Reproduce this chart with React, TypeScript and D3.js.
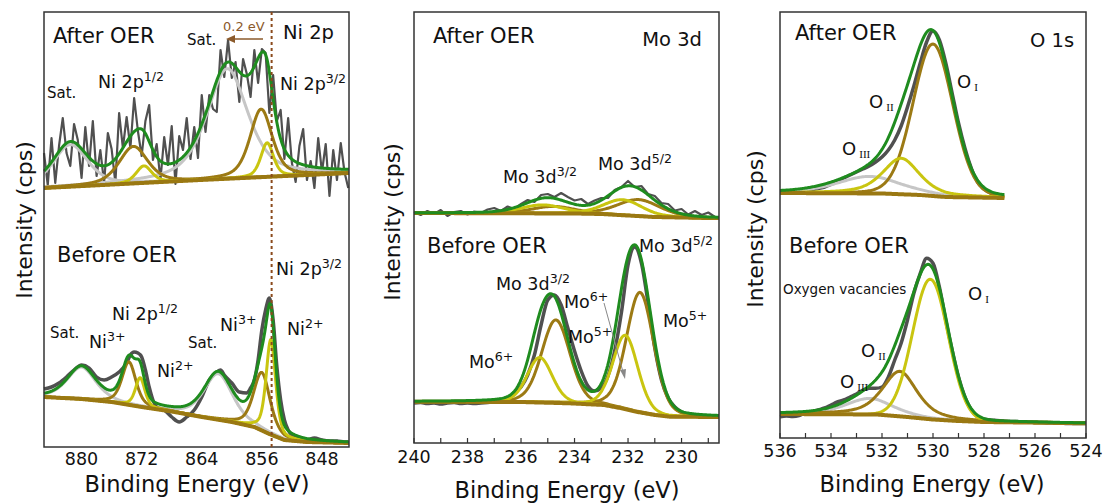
import { useEffect, useRef } from "react";
import * as d3 from "d3";

// ---------- Ni 2p ----------
const niTicks = [880, 872, 864, 856, 848];
const niShiftLine = 854.7;

const niAfterBgE = [885, 864.2, 844.4];
const niAfterBgI = [40, 48, 55];
const niAfterPeakE = [881.5, 860.6, 873.1, 856.1, 871.7, 855.3];
const niAfterPeakH = [42, 110, 37, 68, 17, 34];
const niAfterPeakW = [5.5, 6.5, 4.5, 3.5, 2.5, 2.0];
const niAfterPeakEta = [0.5, 0.6, 0.5, 0.5, 0.5, 0.5];
const niAfterPeakKind = ["gray", "gray", "brown", "brown", "yellow", "yellow"];
// measured counts, 885 eV down in 0.5 eV steps
const niAfterExp = [
  75, 43, 90, 45, 82, 110, 75, 62, 104, 88,
  50, 101, 62, 107, 52, 78, 45, 95, 79, 45,
  115, 80, 111, 80, 130, 97, 72, 107, 123, 68,
  84, 48, 91, 63, 102, 44, 92, 78, 110, 69,
  101, 70, 133, 96, 133, 119, 116, 178, 151, 188,
  150, 166, 126, 169, 154, 131, 178, 145, 179, 175,
  115, 153, 107, 118, 69, 110, 65, 46, 82, 99,
  48, 67, 40, 90, 56, 84, 32, 78, 48, 85,
  56, 40,
];

const niBeforeBgE = [885, 880, 876, 872, 868, 864, 860, 857, 855, 853, 850, 844.4];
const niBeforeBgI = [50, 48, 45, 40, 35.5, 30, 25, 20, 13, 7, 5, 4];
const niBeforePeakE = [880.0, 861.8, 873.7, 856.0, 872.2, 854.8];
const niBeforePeakH = [32, 46, 43, 58, 29, 95];
const niBeforePeakW = [4.5, 4.5, 2.2, 2.6, 1.5, 1.5];
const niBeforePeakEta = [0.5, 0.5, 0.5, 0.5, 0.5, 0.5];
const niBeforePeakKind = ["gray", "gray", "brown", "brown", "yellow", "yellow"];
const niBeforeExpE = [
  885, 884, 883, 882, 881, 880, 879, 878, 877, 876, 875, 874, 873.5, 873, 872.5, 872,
  871.5, 871, 870.5, 870, 869, 868, 867, 866, 865, 864, 863, 862, 861.5, 861, 860, 859,
  858, 857.5, 857, 856.5, 856, 855.5, 855, 854.5, 854, 853.5, 853, 852.5, 852, 851, 850,
  849, 848, 847, 846, 845, 844.5,
];
const niBeforeExpI = [
  58, 60, 64, 70, 77, 82, 79, 70, 67, 70, 75, 84, 92, 95, 94, 90,
  77, 60, 47, 40, 37, 30, 25, 30, 37, 50, 67, 75, 77, 72, 64, 55,
  54, 59, 67, 87, 117, 137, 149, 127, 80, 47, 27, 17, 12, 9, 7,
  9, 7, 6, 6, 5, 5,
];

// ---------- Mo 3d ----------
const moTicks = [240, 238, 236, 234, 232, 230];

const moAfterBgE = [240, 234, 233, 232, 231, 229, 228.6];
const moAfterBgI = [15, 14.5, 14, 12.5, 11, 10, 10];
const moAfterPeakE = [235.2, 232.2, 234.8, 231.6];
const moAfterPeakH = [8.5, 15.5, 7, 16.5];
const moAfterPeakW = [1.9, 1.7, 1.9, 1.9];
const moAfterPeakEta = [0.3, 0.3, 0.3, 0.3];
const moAfterPeakKind = ["yellow", "yellow", "brown", "brown"];
// 240 eV down in 0.25 eV steps
const moAfterExp = [
  16, 13, 17, 14, 18, 12, 16, 17, 13.5, 16.5,
  15, 18.5, 20, 17, 21.5, 19, 24, 28, 26, 33,
  34, 31, 35, 31, 27.5, 29, 24, 27.5, 30, 30,
  38, 41, 47, 41, 42, 34, 32, 25, 24, 17.5,
  19, 13.5, 17, 13, 15.5, 11,
];

const moBeforeBgE = [240, 236, 234.2, 232.9, 232.3, 231.7, 231, 230.45, 228.6];
const moBeforeBgI = [41.3, 41, 39.7, 38, 35, 31.3, 28, 26.3, 26];
const moBeforePeakE = [235.3, 232.1, 234.7, 231.55];
const moBeforePeakH = [45, 74, 83, 120];
const moBeforePeakW = [1.1, 1.1, 1.25, 1.2];
const moBeforePeakEta = [0.2, 0.2, 0.2, 0.2];
const moBeforePeakKind = ["yellow", "yellow", "brown", "brown"];
const moBeforeExp = [
  40, 40.5, 39.5, 40, 39, 40, 40.5, 39.5, 40, 39.5, 40, 40.5, 41,
  42, 45, 50, 56, 68, 88, 118, 143, 148, 138,
  115, 92, 72, 57, 52, 55, 67, 92, 130, 178,
  196, 180, 140, 95, 63, 45, 36, 31, 29, 28,
  27.5, 27, 26.5,
];

// ---------- O 1s ----------
const oTicks = [536, 534, 532, 530, 528, 526, 524];

const oAfterBgE = [536, 532, 530.5, 529.5, 527.2];
const oAfterBgI = [35, 34.5, 33, 31, 30];
const oAfterPeakE = [530.0, 531.25, 532.5];
const oAfterPeakH = [152, 36, 17];
const oAfterPeakW = [1.85, 1.7, 3.0];
const oAfterPeakEta = [0.1, 0.6, 0.5];
const oAfterPeakKind = ["brown", "yellow", "gray"];
// 536 eV down in 0.25 eV steps
const oAfterExp = [
  35, 35, 35.5, 36, 37, 38, 39.5, 41, 43.5, 46.5,
  50, 53, 56, 59, 62, 66, 71, 78, 88, 102,
  121, 142, 165, 186, 197, 188, 165, 135, 105, 80,
  60, 46, 39, 35, 33, 31,
];

const oBeforeBgE = [536, 532.2, 531, 530, 529, 528, 524];
const oBeforeBgI = [24, 23.5, 21, 18.5, 17, 16, 14.7];
const oBeforePeakE = [530.1, 531.3, 532.5];
const oBeforePeakH = [140, 45, 16];
const oBeforePeakW = [1.65, 1.6, 2.2];
const oBeforePeakEta = [0, 0.6, 0.5];
const oBeforePeakKind = ["yellow", "brown", "gray"];
const oBeforeExp = [
  21.3, 22, 21.5, 22.5, 25.3, 26, 28, 30, 33, 36,
  38, 41, 44, 48, 49.7, 49.7, 51, 61, 78, 94.7,
  118, 144.7, 164.7, 179.7, 174.7, 151, 118, 88, 61, 41,
  28, 21.3, 18.7, 18, 17.5, 17, 16.5, 16.5, 16, 16,
  15.5, 15.5, 15, 15, 15, 14.5, 14.5, 14.5, 14.5,
];

const FONT = "'DejaVu Sans', Verdana, sans-serif";
const colors: Record<string, string> = {
  gray: "#c6c6c6",
  brown: "#9c7a14",
  yellow: "#c9c510",
  bg: "#9a7812",
  fit: "#1f8c1f",
  exp: "#505050",
};

type Part = { t: string; sup?: boolean; sub?: boolean };
type Lbl = { x: number; y: number; parts: Part[]; size: number; color?: string; anchor?: string };

const sup = (a: string, b: string, size = 17, x = 0, y = 0): Lbl => ({
  x, y, size, parts: [{ t: a }, { t: b, sup: true }],
});
const roman = (b: string, x: number, y: number): Lbl => ({
  x, y, size: 18, parts: [{ t: "O" }, { t: b, sub: true }],
});

const pv = (e: number, c: number, h: number, w: number, eta: number) => {
  const u = (e - c) / w;
  const L = 1 / (1 + 4 * u * u);
  const G = Math.exp(-4 * Math.LN2 * u * u);
  return h * (eta * L + (1 - eta) * G);
};

const panels = [
  {
    x0: 44, x1: 349, y0: 12, y1: 447, domain: [885, 844.4], ticks: niTicks, minor: false,
    tickY: 465, titleX: 197, titleY: 492, yTitleX: 24, yTitleY: 220,
    subs: [
      {
        bottom: 228, from: 885, to: 844.4, bgE: niAfterBgE, bgI: niAfterBgI,
        pe: niAfterPeakE, ph: niAfterPeakH, pw: niAfterPeakW, peta: niAfterPeakEta, pk: niAfterPeakKind,
        expE: d3.range(niAfterExp.length).map((i) => 885 - i * 0.5), expI: niAfterExp, noisy: true,
      },
      {
        bottom: 447, from: 885, to: 844.4, bgE: niBeforeBgE, bgI: niBeforeBgI,
        pe: niBeforePeakE, ph: niBeforePeakH, pw: niBeforePeakW, peta: niBeforePeakEta, pk: niBeforePeakKind,
        expE: niBeforeExpE, expI: niBeforeExpI, noisy: false,
      },
    ],
    labels: [
      { x: 53, y: 43, size: 21, parts: [{ t: "After OER" }] },
      { x: 283, y: 39, size: 19.5, parts: [{ t: "Ni 2p" }] },
      { x: 223, y: 31, size: 13, color: "#8b5a2b", parts: [{ t: "0.2 eV" }] },
      { x: 187, y: 45, size: 15, parts: [{ t: "Sat." }] },
      sup("Ni 2p", "1/2", 17.5, 98, 88),
      sup("Ni 2p", "3/2", 17.5, 280, 90),
      { x: 47, y: 98, size: 15, parts: [{ t: "Sat." }] },
      { x: 57, y: 262, size: 21, parts: [{ t: "Before OER" }] },
      sup("Ni 2p", "3/2", 17.5, 276, 275),
      sup("Ni 2p", "1/2", 17.5, 112, 320),
      { x: 50, y: 338, size: 15, parts: [{ t: "Sat." }] },
      sup("Ni", "3+", 17.5, 89, 348),
      sup("Ni", "2+", 17.5, 157, 377),
      { x: 188, y: 348, size: 15, parts: [{ t: "Sat." }] },
      sup("Ni", "3+", 17.5, 220, 331),
      sup("Ni", "2+", 17.5, 287, 335),
    ] as Lbl[],
  },
  {
    x0: 414, x1: 719, y0: 12, y1: 443, domain: [240, 228.6], ticks: moTicks, minor: true,
    tickY: 463, titleX: 567, titleY: 498, yTitleX: 392, yTitleY: 222,
    subs: [
      {
        bottom: 228, from: 240, to: 228.6, bgE: moAfterBgE, bgI: moAfterBgI,
        pe: moAfterPeakE, ph: moAfterPeakH, pw: moAfterPeakW, peta: moAfterPeakEta, pk: moAfterPeakKind,
        expE: d3.range(moAfterExp.length).map((i) => 240 - i * 0.25), expI: moAfterExp, noisy: true,
      },
      {
        bottom: 443, from: 240, to: 228.6, bgE: moBeforeBgE, bgI: moBeforeBgI,
        pe: moBeforePeakE, ph: moBeforePeakH, pw: moBeforePeakW, peta: moBeforePeakEta, pk: moBeforePeakKind,
        expE: d3.range(moBeforeExp.length).map((i) => 240 - i * 0.25), expI: moBeforeExp, noisy: false,
      },
    ],
    labels: [
      { x: 433, y: 43, size: 21, parts: [{ t: "After OER" }] },
      { x: 702, y: 46, size: 19.5, anchor: "end", parts: [{ t: "Mo 3d" }] },
      sup("Mo 3d", "3/2", 17.5, 503, 183),
      sup("Mo 3d", "5/2", 17.5, 598, 170),
      { x: 427, y: 253, size: 21, parts: [{ t: "Before OER" }] },
      sup("Mo 3d", "5/2", 17.5, 639, 252),
      sup("Mo 3d", "3/2", 17.5, 496, 290),
      sup("Mo", "6+", 17.5, 564, 308),
      sup("Mo", "5+", 17.5, 568, 343),
      sup("Mo", "5+", 17.5, 663, 327),
      sup("Mo", "6+", 17.5, 469, 368),
    ] as Lbl[],
  },
  {
    x0: 780, x1: 1086, y0: 12, y1: 438, domain: [536, 524], ticks: oTicks, minor: true,
    tickY: 457, titleX: 932, titleY: 492, yTitleX: 755, yTitleY: 229,
    subs: [
      {
        bottom: 228, from: 536, to: 527.2, bgE: oAfterBgE, bgI: oAfterBgI,
        pe: oAfterPeakE, ph: oAfterPeakH, pw: oAfterPeakW, peta: oAfterPeakEta, pk: oAfterPeakKind,
        expE: d3.range(oAfterExp.length).map((i) => 536 - i * 0.25), expI: oAfterExp, noisy: false,
      },
      {
        bottom: 438, from: 536, to: 524, bgE: oBeforeBgE, bgI: oBeforeBgI,
        pe: oBeforePeakE, ph: oBeforePeakH, pw: oBeforePeakW, peta: oBeforePeakEta, pk: oBeforePeakKind,
        expE: d3.range(oBeforeExp.length).map((i) => 536 - i * 0.25), expI: oBeforeExp, noisy: false,
      },
    ],
    labels: [
      { x: 795, y: 40, size: 21, parts: [{ t: "After OER" }] },
      { x: 1030, y: 47, size: 19.5, parts: [{ t: "O 1s" }] },
      roman("I", 957, 88),
      roman("II", 869, 108),
      roman("III", 842, 155),
      { x: 789, y: 253, size: 21, parts: [{ t: "Before OER" }] },
      { x: 783, y: 294, size: 13.5, parts: [{ t: "Oxygen vacancies" }] },
      roman("I", 968, 300),
      roman("II", 861, 357),
      roman("III", 840, 388),
    ] as Lbl[],
  },
];

export default function App() {
  const svgRef = useRef<SVGSVGElement | null>(null);

  useEffect(() => {
    if (!svgRef.current) return;
    const svg = d3.select(svgRef.current);
    svg.selectAll("*").remove();
    svg.append("rect").attr("width", 1105).attr("height", 503).attr("fill", "#fff");

    panels.forEach((p) => {
      const x = d3.scaleLinear().domain(p.domain).range([p.x0, p.x1]);
      const g = svg.append("g");

      p.subs.forEach((s) => {
        const y = d3.scaleLinear().domain([0, 100]).range([s.bottom, s.bottom - 100]);
        const bg = d3.scaleLinear().domain(s.bgE).range(s.bgI);
        const grid = d3.range(s.from, s.to - 1e-9, -0.04);
        const line = d3.line<[number, number]>().x((d) => x(d[0])).y((d) => y(d[1]));

        // measured spectrum
        g.append("path")
          .attr("d", line.curve(s.noisy ? d3.curveLinear : d3.curveMonotoneX)(s.expE.map((e, i) => [e, s.expI[i]] as [number, number])))
          .attr("fill", "none")
          .attr("stroke", colors.exp)
          .attr("stroke-width", s.noisy ? 2.2 : 3.5)
          .attr("stroke-linejoin", "round");

        line.curve(d3.curveLinear);
        // fitted components, drawn gray -> brown -> yellow
        ["gray", "brown", "yellow"].forEach((kind) => {
          s.pe.forEach((c, i) => {
            if (s.pk[i] !== kind) return;
            const pts = grid.map((e) => [e, bg(e) + pv(e, c, s.ph[i], s.pw[i], s.peta[i])] as [number, number]);
            g.append("path")
              .attr("d", line(pts))
              .attr("fill", "none")
              .attr("stroke", colors[kind])
              .attr("stroke-width", 3);
          });
        });

        // background
        g.append("path")
          .attr("d", line(grid.map((e) => [e, bg(e)] as [number, number])))
          .attr("fill", "none")
          .attr("stroke", colors.bg)
          .attr("stroke-width", 4);

        // envelope
        const env = grid.map((e) => {
          let v = bg(e);
          s.pe.forEach((c, i) => (v += pv(e, c, s.ph[i], s.pw[i], s.peta[i])));
          return [e, v] as [number, number];
        });
        g.append("path")
          .attr("d", line(env))
          .attr("fill", "none")
          .attr("stroke", colors.fit)
          .attr("stroke-width", 3);
      });

      // frame
      g.append("rect")
        .attr("x", p.x0).attr("y", p.y0)
        .attr("width", p.x1 - p.x0).attr("height", p.y1 - p.y0)
        .attr("fill", "none").attr("stroke", "#333").attr("stroke-width", 1.5);

      if (p.minor) {
        const lo = Math.min(...p.domain), hi = Math.max(...p.domain);
        d3.range(Math.ceil(lo), Math.floor(hi) + 1).forEach((t) => {
          g.append("line")
            .attr("x1", x(t)).attr("x2", x(t))
            .attr("y1", p.y1).attr("y2", p.y1 - 5)
            .attr("stroke", "#333").attr("stroke-width", 1.2);
        });
      }

      p.ticks.forEach((t) => {
        g.append("text")
          .attr("x", x(t)).attr("y", p.tickY)
          .attr("text-anchor", "middle")
          .attr("font-family", FONT).attr("font-size", 17.5)
          .attr("fill", "#111")
          .text(t);
      });

      g.append("text")
        .attr("x", p.titleX).attr("y", p.titleY)
        .attr("text-anchor", "middle")
        .attr("font-family", FONT).attr("font-size", 22.5)
        .attr("fill", "#111")
        .text("Binding Energy (eV)");

      g.append("text")
        .attr("transform", `translate(${p.yTitleX},${p.yTitleY}) rotate(-90)`)
        .attr("text-anchor", "middle")
        .attr("dominant-baseline", "central")
        .attr("font-family", FONT).attr("font-size", 22)
        .attr("fill", "#111")
        .text("Intensity (cps)");

      p.labels.forEach((l) => {
        const t = g.append("text")
          .attr("x", l.x).attr("y", l.y)
          .attr("font-family", FONT).attr("font-size", l.size)
          .attr("text-anchor", l.anchor ?? "start")
          .attr("fill", l.color ?? "#111");
        l.parts.forEach((pt) => {
          const ts = t.append("tspan").text(pt.t);
          if (pt.sup) ts.attr("font-size", l.size * 0.72).attr("dy", -l.size * 0.42);
          if (pt.sub)
            ts.attr("font-size", l.size * 0.62)
              .attr("font-family", "'Liberation Serif', 'DejaVu Serif', serif")
              .attr("dx", 3).attr("dy", l.size * 0.18);
        });
      });
    });

    // Ni 2p3/2 reference line and shift arrow
    const xNi = d3.scaleLinear().domain(panels[0].domain).range([panels[0].x0, panels[0].x1]);
    svg.append("line")
      .attr("x1", xNi(niShiftLine)).attr("x2", xNi(niShiftLine))
      .attr("y1", 12).attr("y2", 447)
      .attr("stroke", "#8b4a1c").attr("stroke-width", 2).attr("stroke-dasharray", "3,3");
    svg.append("line")
      .attr("x1", 263).attr("x2", 233).attr("y1", 39).attr("y2", 39)
      .attr("stroke", "#8b5a2b").attr("stroke-width", 1.5);
    svg.append("polygon").attr("points", "226,39 235,35 235,43").attr("fill", "#8b5a2b");

    // Mo6+ pointer
    svg.append("line")
      .attr("x1", 604).attr("y1", 303).attr("x2", 623).attr("y2", 372)
      .attr("stroke", "#888").attr("stroke-width", 1);
    svg.append("polygon").attr("points", "625,379 620,370 626,369").attr("fill", "#888");
  }, []);

  return (
    <svg
      ref={svgRef}
      width={1105}
      height={503}
      style={{ position: "absolute", left: 0, top: 0, background: "#fff" }}
    />
  );
}
